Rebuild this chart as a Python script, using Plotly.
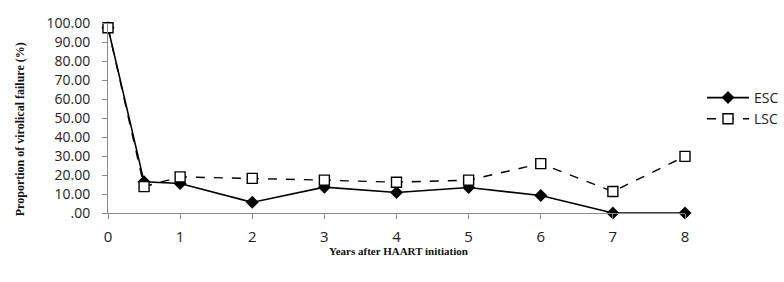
import plotly.graph_objects as go

years = [0, 0.5, 1, 2, 3, 4, 5, 6, 7, 8]
esc = [97.5, 16.4, 15.5, 5.6, 13.6, 10.8, 13.4, 9.2, 0.0, 0.0]
lsc = [97.5, 13.9, 19.0, 18.2, 17.3, 16.2, 17.3, 26.0, 11.3, 29.8]
y_ticks = [0, 10, 20, 30, 40, 50, 60, 70, 80, 90, 100]
y_tick_text = [".00", "10.00", "20.00", "30.00", "40.00", "50.00", "60.00", "70.00", "80.00", "90.00", "100.00"]
x_ticks = [0, 1, 2, 3, 4, 5, 6, 7, 8]

fig = go.Figure()
fig.add_trace(go.Scatter(
    x=years, y=esc, name="ESC", mode="lines+markers",
    line=dict(color="black", width=1.6),
    marker=dict(symbol="diamond", size=10, color="black"),
    cliponaxis=False,
))
fig.add_trace(go.Scatter(
    x=years, y=lsc, name="LSC", mode="lines+markers",
    line=dict(color="black", width=1.4, dash="dash"),
    marker=dict(symbol="square", size=10, color="white", line=dict(color="black", width=1.4)),
    cliponaxis=False,
))

W, H = 784, 282
L, R, T, B = 108, 99, 22.5, 69
fig.update_layout(
    width=W, height=H,
    margin=dict(l=L, r=R, t=T, b=B, autoexpand=False),
    paper_bgcolor="white", plot_bgcolor="white",
    font=dict(family="Open Sans", size=15, color="#222"),
    showlegend=True,
    legend=dict(
        xref="container", yref="container", x=702 / W, y=1 - 82 / H,
        xanchor="left", yanchor="top",
        font=dict(family="Open Sans", size=14, color="#222"),
        itemwidth=42, tracegroupgap=0, bgcolor="rgba(0,0,0,0)",
    ),
    xaxis=dict(
        range=[0, 8], tickvals=x_ticks, ticktext=[str(v) for v in x_ticks],
        showgrid=False, zeroline=False, showline=True, linecolor="#8a8a8a", linewidth=1,
        ticks="outside", ticklen=5, tickcolor="#8a8a8a", ticklabelstandoff=5,
        tickfont=dict(family="Open Sans", size=15, color="#222"),
    ),
    yaxis=dict(
        range=[0, 100], tickvals=y_ticks, ticktext=y_tick_text,
        showgrid=False, zeroline=False, showline=True, linecolor="#8a8a8a", linewidth=1,
        ticks="outside", ticklen=5, tickcolor="#8a8a8a", ticklabelstandoff=9,
        tickfont=dict(family="Open Sans", size=14, color="#222"),
    ),
    annotations=[
        dict(text="<b>Proportion of virolical failure (%)</b>", textangle=-90,
             xref="paper", yref="paper",
             x=(20 - L) / (W - L - R), y=(H - B - 129) / (H - B - T),
             xanchor="center", yanchor="middle", showarrow=False,
             font=dict(family="Liberation Serif", size=12, color="#111")),
        dict(text="<b>Years after HAART initiation</b>",
             xref="paper", yref="paper",
             x=(398 - L) / (W - L - R), y=(H - B - 251) / (H - B - T),
             xanchor="center", yanchor="middle", showarrow=False,
             font=dict(family="Liberation Serif", size=11, color="#111")),
    ],
)

fig.write_html(
    "out.html",
    config={"displayModeBar": False},
    post_script="document.body.style.margin='0';document.body.style.overflow='hidden';",
)
